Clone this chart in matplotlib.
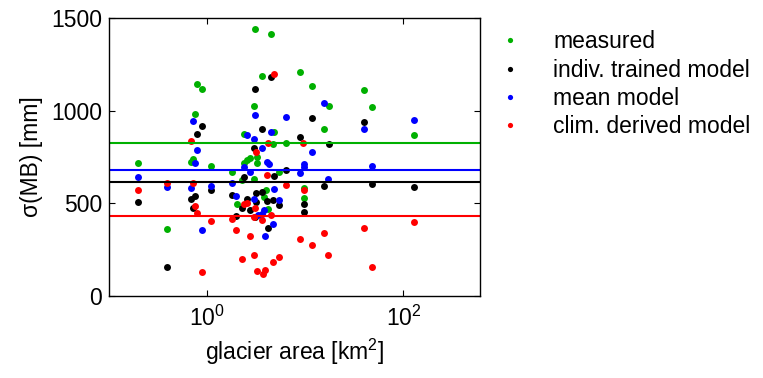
import numpy as np
import matplotlib
matplotlib.use('Agg')
import matplotlib.pyplot as plt
from matplotlib.ticker import FixedLocator, NullLocator, LogFormatterMathtext

plt.rcParams['font.family'] = ['Liberation Sans', 'DejaVu Sans']
plt.rcParams['mathtext.fontset'] = 'custom'
plt.rcParams['mathtext.rm'] = 'Liberation Sans'
plt.rcParams['mathtext.it'] = 'Liberation Sans:italic'
fs = 16.5
plt.rcParams['font.size'] = fs

# glacier area [km2] and sigma(MB) [mm]
meas_x = [0.196, 0.391, 0.687, 0.720, 0.749, 0.791, 0.889, 1.09, 1.77, 2.01, 2.26, 2.35,
          2.39, 2.54, 2.75, 2.97, 2.97, 3.09, 3.20, 3.20, 3.58, 3.81, 3.93, 4.12, 4.50,
          4.64, 4.83, 5.39, 6.30, 8.89, 9.61, 9.61, 11.8, 15.6, 17.3, 39.4, 48.0, 128.6]
meas_y = [718, 363, 726, 737, 982, 1142, 1115, 701, 667, 498, 624, 716,
          874, 734, 743, 1025, 631, 1441, 750, 720, 1187, 536, 574, 468, 1417,
          819, 887, 667, 824, 1210, 583, 527, 1131, 901, 1027, 1113, 1021, 867]

indiv_x = [0.196, 0.391, 0.691, 0.720, 0.755, 0.791, 0.889, 1.09, 1.77, 1.98, 2.28, 2.39,
           2.54, 2.75, 2.97, 3.09, 3.09, 3.18, 3.18, 3.58, 3.64, 4.07, 4.12, 4.50, 4.64,
           4.75, 5.39, 6.30, 8.89, 9.61, 9.61, 11.8, 15.6, 17.3, 39.4, 48.0, 128.6]
indiv_y = [509, 158, 522, 473, 541, 874, 917, 572, 543, 433, 476, 644,
           525, 462, 797, 1119, 425, 557, 509, 901, 561, 513, 369, 1180, 520,
           646, 491, 678, 856, 496, 455, 960, 595, 820, 939, 604, 586]

mean_x = [0.196, 0.391, 0.691, 0.720, 0.749, 0.791, 0.889, 1.09, 1.77, 1.98, 2.39, 2.54,
          2.75, 2.97, 2.97, 3.09, 3.26, 3.58, 3.58, 3.81, 3.88, 4.07, 4.22, 4.50, 4.64,
          4.75, 5.39, 6.30, 8.89, 9.61, 9.61, 11.8, 15.6, 17.2, 40.0, 48.0, 128.6]
mean_y = [640, 590, 584, 943, 719, 789, 355, 592, 608, 538, 698, 869,
          671, 846, 525, 978, 437, 797, 444, 464, 324, 725, 711, 887, 390,
          579, 520, 964, 662, 711, 694, 779, 1040, 633, 901, 701, 950]

clim_x = [0.196, 0.391, 0.687, 0.720, 0.755, 0.796, 0.889, 1.09, 1.77, 1.98, 2.29, 2.39,
          2.54, 2.75, 2.97, 2.97, 3.09, 3.18, 3.22, 3.64, 3.67, 3.91, 4.07, 4.12, 4.47,
          4.64, 4.79, 5.39, 6.30, 8.89, 9.55, 9.61, 11.8, 15.6, 17.2, 39.4, 48.0, 128.6]
clim_y = [572, 610, 836, 611, 487, 449, 129, 406, 415, 358, 198, 495,
          503, 325, 428, 221, 473, 777, 133, 412, 117, 142, 653, 824, 437,
          183, 1198, 212, 599, 308, 824, 570, 277, 338, 221, 367, 156, 399]

# average levels drawn as horizontal lines
mean_levels = [825, 617, 680, 430]

labels = ['measured', 'indiv. trained model', 'mean model', 'clim. derived model']
colors = ['#00b000', 'black', 'blue', 'red']
xs = [meas_x, indiv_x, mean_x, clim_x]
ys = [meas_y, indiv_y, mean_y, clim_y]

fig = plt.figure(figsize=(7.63, 3.78), dpi=100)
ax = fig.add_axes([0.1429, 0.217, 0.486, 0.735])

for x, y, c, lab in zip(xs, ys, colors, labels):
    ax.plot(x, y, 'o', color=c, markersize=5, markeredgewidth=0, label=lab)
for lev, c in zip(mean_levels, colors):
    ax.axhline(lev, color=c, lw=1.5)

ax.set_xscale('log')
ax.set_xlim(0.1, 600)
ax.set_ylim(0, 1500)
ax.xaxis.set_major_locator(FixedLocator([1, 100]))
ax.xaxis.set_major_formatter(LogFormatterMathtext())
ax.xaxis.set_minor_locator(NullLocator())
ax.set_yticks([0, 500, 1000, 1500])
ax.tick_params(direction='in', top=True, right=True, length=4, labelsize=fs)
ax.tick_params(axis='y', pad=5)
ax.tick_params(axis='x', pad=7)
for s in ax.spines.values():
    s.set_linewidth(1.0)

ax.set_xlabel('glacier area [km$^2$]', fontsize=fs, labelpad=4)
ax.set_ylabel('σ(MB) [mm]', fontsize=fs, labelpad=6)

leg = ax.legend(loc='upper left', bbox_to_anchor=(1.026, 0.989), frameon=False,
                markerscale=0.75, handlelength=1.0, handletextpad=1.37, labelspacing=0.23,
                borderaxespad=0, fontsize=fs)

fig.savefig('out.png', dpi=100)
